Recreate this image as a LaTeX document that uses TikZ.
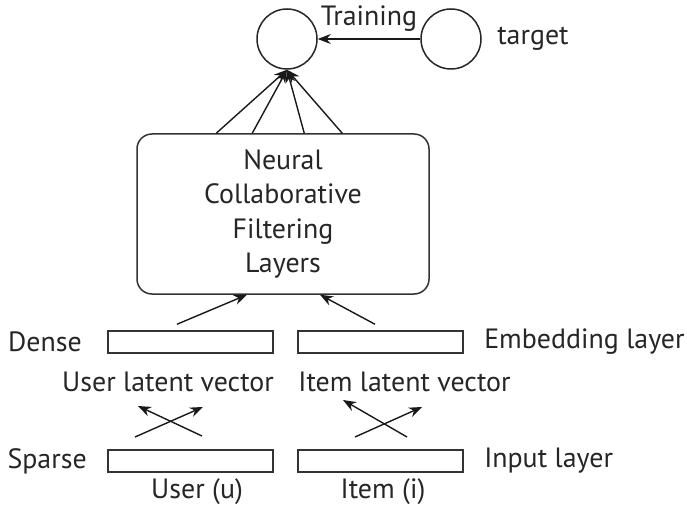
\documentclass[tikz,border=0pt]{standalone}
\usepackage{fontspec}
\setmainfont{PT Sans}
\usetikzlibrary{positioning, arrows.meta, calc}

\begin{document}
\begin{tikzpicture}[x=1bp, y=-1bp, >={Stealth[length=13bp,width=10bp]},
  every node/.style={font=\fontsize{28}{34.5}\selectfont, text=black!85},
  layerbox/.style={draw=black!80, line width=1.5bp, minimum width=165bp, minimum height=22bp, inner sep=0pt},
  unit/.style={draw=black!85, circle, line width=1.5bp, minimum size=60bp, inner sep=0pt},
  link/.style={->, line width=1.4bp, draw=black!90}]
\useasboundingbox (0,0) rectangle (687,509);

% output unit and target
\node[unit] (out) at (287,39) {};
\node[unit] (target) at (451,39) {};
\node[right=12bp of target] (tlabel) {target};
\draw[link] (target) -- (out) node[midway, above=4bp] (train) {Training};

% the NCF block
\node[draw=black!80, line width=1.5bp, rounded corners=15bp, minimum width=292bp,
  minimum height=160bp, align=center] (ncf) at (283,214)
  {Neural\\Collaborative\\Filtering\\Layers};
\foreach \dx in {80,116,168,206}
  \draw[link] ($(ncf.north west)+(\dx,0)$) -- (out.south);

% embedding layer
\node[layerbox] (udense) at (190.5,342) {};
\node[layerbox] (idense) at (380.5,342) {};
\node[left=22bp of udense] (dense) {Dense};
\node[right=17bp of idense] (emb) {Embedding layer};
\draw[link] ($(udense.north)+(-13.5,-6)$) -- ($(ncf.south)+(-36,0)$);
\draw[link] ($(idense.north)+(-5.5,-6)$) -- ($(ncf.south)+(37,0)$);

% latent vectors
\node (uvec) at (168,382) {User latent vector};
\node (ivec) at (404.5,382) {Item latent vector};

% input layer
\node[layerbox] (usparse) at (190.5,461) {};
\node[layerbox] (isparse) at (380.5,461) {};
\node[left=17bp of usparse] (sparse) {Sparse};
\node[right=17bp of isparse] (inp) {Input layer};
\node[inner sep=1bp] (uname) at (197,492) {User (u)};
\node[inner sep=1bp] (iname) at (383,492) {Item (i)};

% crossing arrows
\coordinate (ua1) at (135,437);
\coordinate (ua2) at (203,407);
\coordinate (ub1) at (202,436);
\coordinate (ub2) at (138,406);
\coordinate (ia1) at (355,437);
\coordinate (ia2) at (422,407);
\coordinate (ib1) at (407,437);
\coordinate (ib2) at (343,400);
\draw[link] (ua1) -- (ua2);
\draw[link] (ub1) -- (ub2);
\draw[link] (ia1) -- (ia2);
\draw[link] (ib1) -- (ib2);

\end{tikzpicture}
\end{document}
